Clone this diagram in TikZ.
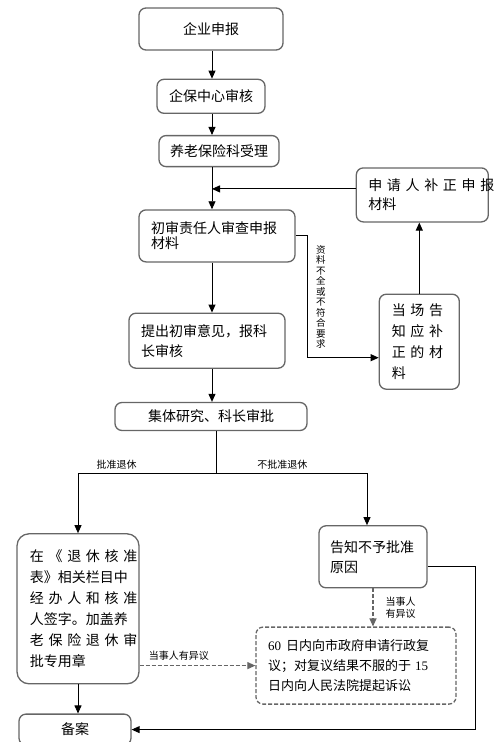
\documentclass[tikz,border=0pt]{standalone}
\usepackage{fontspec}
\setmainfont{Noto Sans CJK SC}
\newfontfamily\numfont{Liberation Serif}
\usetikzlibrary{arrows.meta,positioning}

\begin{document}
\begin{tikzpicture}[x=1pt, y=-1pt, node distance=20pt,
        stage/.style={rectangle, draw=black!60, line width=1.3pt, rounded corners=7pt, inner sep=0pt, align=center, font={\fontsize{14pt}{20pt}\selectfont}},
        open/.style={stage, dash pattern=on 4pt off 2pt},
        tag/.style={inner sep=0pt, align=center, font={\fontsize{10pt}{12pt}\selectfont}},
        arrow/.style={-{Triangle[length=8pt,width=7pt]}, line width=0.9pt},
        dasharrow/.style={arrow, draw=black!60, line width=1.2pt, dash pattern=on 4pt off 2pt}]

        \useasboundingbox (0,0) rectangle (503,742);

        % Main line (top)
        \node[stage, minimum width=144pt, minimum height=42pt] (apply) at (211,29) {企业申报};
        \node[stage, minimum width=108pt, minimum height=34pt, below=28pt of apply] (center) {企保中心审核};
        \node[stage, minimum width=120pt, minimum height=31pt, below=21pt of center, xshift=8pt] (accept) {养老保险科受理};
        \node[stage, minimum width=156pt, minimum height=52pt, text width=132pt, align=left, font={\fontsize{14pt}{15pt}\selectfont}, below=42pt of accept, xshift=-2pt] (firstcheck) {初审责任人审查申报\\材料};
        \node[stage, minimum width=156pt, minimum height=55pt, text width=132pt, align=left, below=50pt of firstcheck, xshift=-10pt] (opinion) {提出初审意见，报科\\长审核};
        \node[stage, minimum width=192pt, minimum height=28pt, below=33pt of opinion, xshift=4pt] (decide) {集体研究、科长审批};

        % Correction loop (right)
        \node[stage, minimum width=132pt, minimum height=54pt, text width=108pt, align=left, font={\fontsize{14pt}{19pt}\selectfont}, right=60pt of firstcheck, yshift=41pt] (supplement) {\makebox[108pt][s]{申 请 人 补 正 申 报}\\材料};
        \node[stage, minimum width=80pt, minimum height=95pt, text width=55pt, align=left, font={\fontsize{14pt}{21pt}\selectfont}, below=71pt of supplement, xshift=-3pt] (notify) {\makebox[55pt][s]{当 场 告}\\\makebox[55pt][s]{知 应 补}\\\makebox[55pt][s]{正 的 材}\\料};

        % Outcomes (bottom)
        \node[stage, rounded corners=12pt, minimum width=122pt, minimum height=150pt, text width=96pt, align=left, font={\fontsize{14pt}{21pt}\selectfont}, below=102pt of decide, xshift=-133pt] (approve) {\makebox[96pt][s]{在 《 退 休 核 准}\\表》相关栏目中\\\makebox[96pt][s]{经 办 人 和 核 准}\\人签字。加盖养\\\makebox[96pt][s]{老 保 险 退 休 审}\\批专用章};
        \node[stage, minimum width=108pt, minimum height=62pt, text width=86pt, align=left, below=94pt of decide, xshift=162pt] (refuse) {告知不予批准\\原因};
        \node[open, minimum width=200pt, minimum height=77pt, text width=176pt, align=left, font={\fontsize{13pt}{20pt}\selectfont}, below=38pt of refuse, xshift=-17pt] (court) {{\numfont 60}\hspace{5pt}日内向市政府申请行政复\\议；对复议结果不服的于\hspace{4pt}{\numfont 15}\\日内向人民法院提起诉讼};
        \node[stage, minimum width=112pt, minimum height=31pt, below=29pt of approve, xshift=-3pt] (archive) {备案};

        % Arrows
        \coordinate (spine) at (212,0);
        \coordinate (back) at ([yshift=6pt]supplement.west);
        \coordinate[below=42pt of decide.south, xshift=5pt] (fork);
        \draw[arrow] (spine |- apply.south) -- (spine |- center.north);
        \draw[arrow] (spine |- center.south) -- (spine |- accept.north);
        \draw[arrow] (spine |- accept.south) -- (spine |- firstcheck.north);
        \draw[arrow] (back) -- (spine |- back);
        \draw[arrow] (spine |- firstcheck.south) -- (spine |- opinion.north);
        \draw[arrow] (spine |- opinion.south) -- (spine |- decide.north);
        \draw[arrow] (firstcheck.east) -- ++(12pt,0) |- node[tag, pos=0.25, right=8pt, font={\fontsize{9.5pt}{10.5pt}\selectfont}] {资\\料\\不\\全\\或\\不\\符\\合\\要\\求} ([yshift=-16pt]notify.west);
        \draw[arrow] (notify.north) -- (notify.north |- supplement.south);
        \draw (fork |- decide.south) -- (fork);
        \draw[arrow] (fork) -| node[tag, above=3pt, pos=0.36] {批准退休} (approve.north);
        \draw[arrow] (fork) -| node[tag, above=3pt, pos=0.22] {不批准退休} ([xshift=-6pt]refuse.north);
        \draw[arrow] (approve.south) -- (approve.south |- archive.north);
        \draw[arrow] ([yshift=-10pt]refuse.east) -- ++(48pt,0) |- (archive.east);
        \draw[dasharrow] (refuse.south) -- node[tag, right=12pt] {当事人\\有异议} (refuse.south |- court.north);
        \draw[dasharrow] (approve.east |- court.west) -- node[tag, above=5pt, pos=0.34] {当事人有异议} (court.west);
    \end{tikzpicture}
\end{document}
